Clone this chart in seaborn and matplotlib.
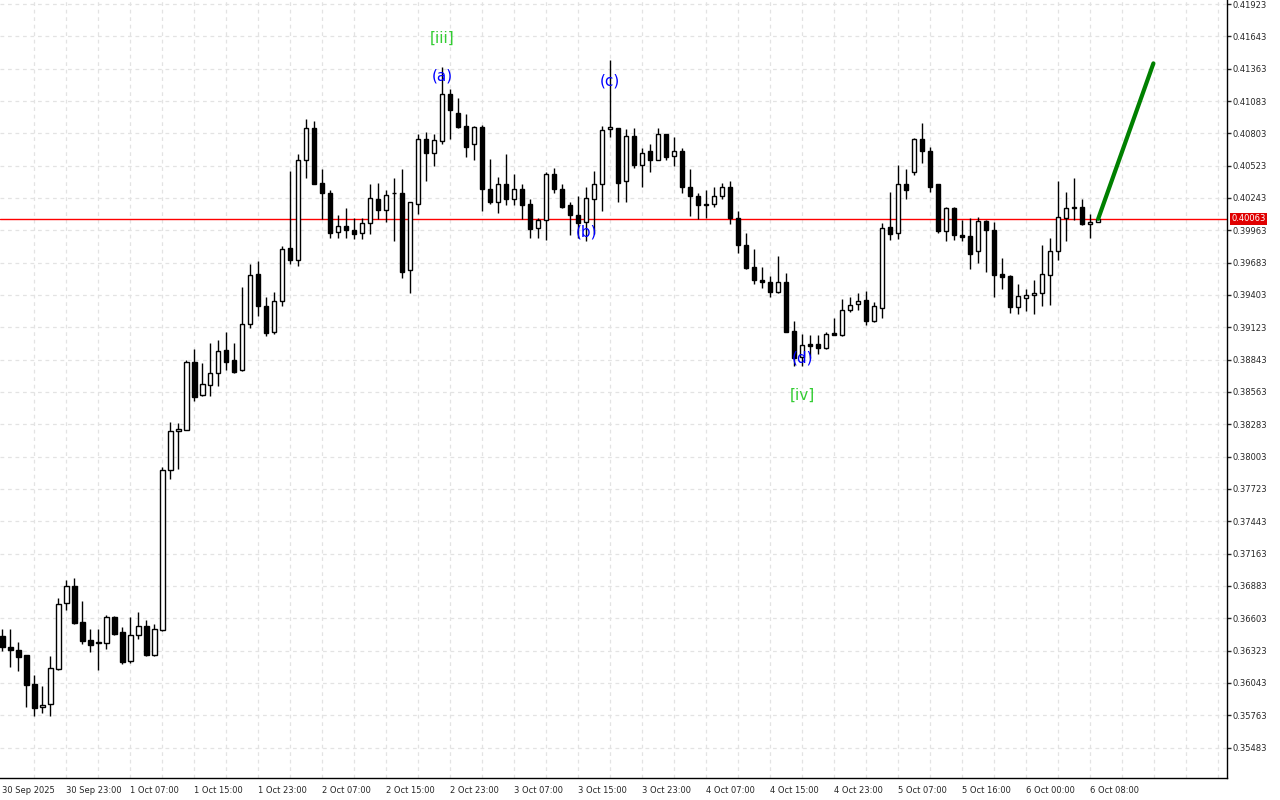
import numpy as np
import pandas as pd
import matplotlib
matplotlib.use("Agg")
import matplotlib.pyplot as plt
import seaborn as sns

# ===============================
# hourly OHLC candles (30 Sep 15:00 -> 6 Oct 09:00)
# ===============================
opens = [
    0.36450, 0.36354, 0.36328, 0.36285, 0.36033, 0.35834, 0.35860, 0.36163, 0.36736, 0.36883,
    0.36571, 0.36415, 0.36389, 0.36389, 0.36614, 0.36484, 0.36233, 0.36458, 0.36536, 0.36285,
    0.36502, 0.37889, 0.38227, 0.38236, 0.38825, 0.38539, 0.38626, 0.38730, 0.38929, 0.38842,
    0.38756, 0.39155, 0.39588, 0.39311, 0.39085, 0.39354, 0.39814, 0.39709, 0.40568, 0.40845,
    0.40377, 0.40290, 0.39952, 0.40004, 0.39970, 0.39944, 0.40030, 0.40238, 0.40143, 0.40290,
    0.40290, 0.39623, 0.40195, 0.40750, 0.40637, 0.40733, 0.41140, 0.40975, 0.40863, 0.40707,
    0.40854, 0.40325, 0.40204, 0.40360, 0.40238, 0.40325, 0.40195, 0.39987, 0.40056, 0.40455,
    0.40325, 0.40178, 0.40100, 0.40039, 0.40238, 0.40360, 0.40837, 0.40845, 0.40394, 0.40776,
    0.40533, 0.40646, 0.40576, 0.40793, 0.40611, 0.40654, 0.40342, 0.40264, 0.40178, 0.40195,
    0.40264, 0.40342, 0.40074, 0.39840, 0.39649, 0.39536, 0.39519, 0.39432, 0.39519, 0.39094,
    0.38868, 0.38981, 0.38981, 0.38947, 0.39077, 0.39059, 0.39276, 0.39328, 0.39363, 0.39181,
    0.39293, 0.39996, 0.39944, 0.40368, 0.40472, 0.40750, 0.40654, 0.40360, 0.39961, 0.40160,
    0.39926, 0.39918, 0.39787, 0.40048, 0.39970, 0.39588, 0.39571, 0.39302, 0.39380, 0.39406,
    0.39423, 0.39579, 0.39787, 0.40074, 0.40152, 0.40169, 0.40022, 0.40039,
]
highs = [
    0.36510, 0.36510, 0.36398, 0.36285, 0.36111, 0.36016, 0.36276, 0.36779, 0.36935, 0.36952,
    0.36753, 0.36510, 0.36510, 0.36632, 0.36623, 0.36528, 0.36614, 0.36658, 0.36588, 0.36554,
    0.37915, 0.38305, 0.38296, 0.38842, 0.38938, 0.38816, 0.38990, 0.39016, 0.39085, 0.38990,
    0.39475, 0.39675, 0.39701, 0.39389, 0.39432, 0.39831, 0.40481, 0.40628, 0.40923, 0.40906,
    0.40498, 0.40316, 0.40100, 0.40152, 0.40074, 0.40074, 0.40368, 0.40377, 0.40308, 0.40412,
    0.40490, 0.40212, 0.40793, 0.40811, 0.40793, 0.41374, 0.41183, 0.41105, 0.40967, 0.40863,
    0.40871, 0.40585, 0.40429, 0.40620, 0.40455, 0.40360, 0.40238, 0.40074, 0.40464, 0.40507,
    0.40360, 0.40204, 0.40264, 0.40342, 0.40481, 0.40863, 0.41435, 0.40850, 0.40837, 0.40845,
    0.40672, 0.40707, 0.40845, 0.40800, 0.40767, 0.40672, 0.40490, 0.40290, 0.40308, 0.40342,
    0.40377, 0.40386, 0.40134, 0.39944, 0.39805, 0.39649, 0.39571, 0.39744, 0.39597, 0.39181,
    0.39068, 0.39059, 0.39059, 0.39085, 0.39207, 0.39371, 0.39389, 0.39423, 0.39441, 0.39345,
    0.40030, 0.40299, 0.40533, 0.40498, 0.40759, 0.40889, 0.40689, 0.40368, 0.40169, 0.40165,
    0.40056, 0.40074, 0.40082, 0.40056, 0.40039, 0.39727, 0.39579, 0.39501, 0.39458, 0.39536,
    0.39840, 0.39900, 0.40394, 0.40299, 0.40420, 0.40238, 0.40108, 0.40063,
]
lows = [
    0.36319, 0.36181, 0.36146, 0.35834, 0.35756, 0.35782, 0.35756, 0.36155, 0.36675, 0.36554,
    0.36380, 0.36311, 0.36155, 0.36337, 0.36458, 0.36207, 0.36215, 0.36424, 0.36276, 0.36280,
    0.36493, 0.37811, 0.37897, 0.38230, 0.38487, 0.38530, 0.38530, 0.38617, 0.38756, 0.38730,
    0.38748, 0.39120, 0.39224, 0.39051, 0.39068, 0.39311, 0.39675, 0.39657, 0.40420, 0.40360,
    0.40065, 0.39900, 0.39900, 0.39900, 0.39892, 0.39892, 0.39935, 0.40065, 0.40039, 0.39874,
    0.39553, 0.39423, 0.40108, 0.40394, 0.40516, 0.40707, 0.40750, 0.40845, 0.40602, 0.40576,
    0.40126, 0.40195, 0.40117, 0.40186, 0.40178, 0.40065, 0.39900, 0.39900, 0.39883, 0.40282,
    0.40152, 0.39926, 0.39900, 0.39874, 0.39935, 0.40134, 0.40767, 0.40204, 0.40204, 0.40507,
    0.40342, 0.40464, 0.40570, 0.40568, 0.40524, 0.40290, 0.40091, 0.40065, 0.40074, 0.40169,
    0.40238, 0.40022, 0.39770, 0.39631, 0.39501, 0.39467, 0.39389, 0.39423, 0.39080, 0.38790,
    0.38790, 0.38860, 0.38894, 0.38938, 0.39055, 0.39050, 0.39259, 0.39276, 0.39146, 0.39172,
    0.39207, 0.39883, 0.39892, 0.40230, 0.40446, 0.40550, 0.40299, 0.39944, 0.39874, 0.39883,
    0.39874, 0.39631, 0.39683, 0.39605, 0.39389, 0.39458, 0.39250, 0.39241, 0.39267, 0.39241,
    0.39311, 0.39319, 0.39709, 0.39874, 0.40056, 0.40013, 0.39900, 0.40039,
]
closes = [
    0.36354, 0.36328, 0.36267, 0.36025, 0.35825, 0.35851, 0.36172, 0.36727, 0.36883, 0.36562,
    0.36406, 0.36372, 0.36395, 0.36614, 0.36467, 0.36224, 0.36458, 0.36536, 0.36285, 0.36510,
    0.37889, 0.38227, 0.38244, 0.38825, 0.38522, 0.38634, 0.38730, 0.38920, 0.38825, 0.38738,
    0.39155, 0.39579, 0.39311, 0.39077, 0.39354, 0.39805, 0.39709, 0.40568, 0.40845, 0.40368,
    0.40282, 0.39944, 0.40004, 0.39970, 0.39935, 0.40030, 0.40247, 0.40143, 0.40273, 0.40282,
    0.39605, 0.40204, 0.40750, 0.40637, 0.40741, 0.41140, 0.41001, 0.40854, 0.40689, 0.40854,
    0.40325, 0.40204, 0.40360, 0.40230, 0.40325, 0.40186, 0.39978, 0.40056, 0.40455, 0.40325,
    0.40169, 0.40100, 0.40030, 0.40247, 0.40368, 0.40828, 0.40854, 0.40377, 0.40776, 0.40533,
    0.40637, 0.40568, 0.40793, 0.40602, 0.40654, 0.40334, 0.40264, 0.40178, 0.40195, 0.40264,
    0.40342, 0.40074, 0.39840, 0.39640, 0.39536, 0.39519, 0.39432, 0.39519, 0.39085, 0.38860,
    0.38973, 0.38964, 0.38947, 0.39068, 0.39059, 0.39276, 0.39319, 0.39354, 0.39181, 0.39311,
    0.39987, 0.39935, 0.40368, 0.40308, 0.40750, 0.40646, 0.40342, 0.39961, 0.40160, 0.39926,
    0.39909, 0.39761, 0.40048, 0.39970, 0.39579, 0.39562, 0.39302, 0.39397, 0.39406, 0.39423,
    0.39588, 0.39787, 0.40082, 0.40152, 0.40169, 0.40022, 0.40039, 0.40063,
]

time_labels = [
    "30 Sep 2025", "30 Sep 23:00", "1 Oct 07:00", "1 Oct 15:00", "1 Oct 23:00",
    "2 Oct 07:00", "2 Oct 15:00", "2 Oct 23:00", "3 Oct 07:00", "3 Oct 15:00",
    "3 Oct 23:00", "4 Oct 07:00", "4 Oct 15:00", "4 Oct 23:00", "5 Oct 07:00",
    "5 Oct 16:00", "6 Oct 00:00", "6 Oct 08:00",
]
price_levels = [round(0.35483 + 0.0028 * k, 5) for k in range(24)]
last_price = 0.40063

# forecast line (end of wave [v])
forecast_x = [137, 143.9]
forecast_y = [0.40063, 0.41409]

# Elliott wave marks
wave_text = ["[iii]", "(a)", "(b)", "(c)", "(d)", "[iv]"]
wave_x = [55, 55, 73, 76, 100, 100]
wave_y = [0.41626, 0.41296, 0.39952, 0.41253, 0.38860, 0.38530]
wave_color = ["#33cc33", "#0000ff", "#0000ff", "#0000ff", "#0000ff", "#33cc33"]

assert len(opens) == len(highs) == len(lows) == len(closes) == 138

df = pd.DataFrame({"open": opens, "high": highs, "low": lows, "close": closes})
df["idx"] = np.arange(len(df))
df["bull"] = df["close"] >= df["open"]

# ===============================
# figure
# ===============================
sns.set_style("white")
plt.rcParams["font.family"] = ["DejaVu Sans"]

fig = plt.figure(figsize=(12.8, 8), dpi=100)
ax = fig.add_axes([0, 22 / 800, 1227 / 1280, 778 / 800])
ax.set_facecolor("white")

ax.set_xlim(-0.29, 153.1)
ax.set_ylim(0.35219, 0.41958)

# grid
for p in price_levels:
    ax.axhline(p, color="#e3e3e3", lw=0.9, ls=(0, (3, 3)), zorder=0)
for gx in range(4, 156, 4):
    ax.axvline(gx, color="#e3e3e3", lw=0.9, ls=(0, (3, 3)), zorder=0)

# candles
ax.vlines(df["idx"], df["low"], df["high"], color="black", lw=1, zorder=2)
body_bottom = df[["open", "close"]].min(axis=1)
body_height = (df["close"] - df["open"]).abs()
ax.bar(df["idx"], body_height, bottom=body_bottom, width=0.55,
       color=np.where(df["bull"], "white", "black"), edgecolor="black",
       linewidth=1, zorder=3)

# last price line
ax.axhline(last_price, color="#ff0000", lw=1, zorder=1)

# forecast
sns.lineplot(x=forecast_x, y=forecast_y, color="#008000", lw=3, ax=ax, zorder=4)

# wave labels
for t, x, y, c in zip(wave_text, wave_x, wave_y, wave_color):
    ax.text(x, y, t, color=c, fontsize=11, ha="center", va="center", zorder=5)

# axes
for s in ["left", "top"]:
    ax.spines[s].set_visible(False)
for s in ["bottom", "right"]:
    ax.spines[s].set_color("black")
    ax.spines[s].set_linewidth(1)

ax.yaxis.tick_right()
ax.set_yticks(price_levels)
ax.set_yticklabels([f"{p:.5f}" for p in price_levels])
ax.tick_params(axis="y", direction="out", length=3, width=1, labelsize=6, pad=1)

xt = list(range(0, 153, 8))
ax.set_xticks(xt)
ax.set_xticklabels(time_labels + [""] * (len(xt) - len(time_labels)))
ax.tick_params(axis="x", direction="out", length=4, width=1, labelsize=6, pad=2)
for lab in ax.get_xticklabels():
    lab.set_ha("left")

ax.set_xlabel("")
ax.set_ylabel("")

# current price tag
ax.annotate(f"{last_price:.5f}", xy=(1.0, last_price),
            xycoords=("axes fraction", "data"), xytext=(3, 0),
            textcoords="offset points", ha="left", va="center",
            fontsize=6, color="white",
            bbox=dict(boxstyle="square,pad=0.2", fc="#e00000", ec="none"))

fig.savefig("out.png", dpi=100)
plt.close()
